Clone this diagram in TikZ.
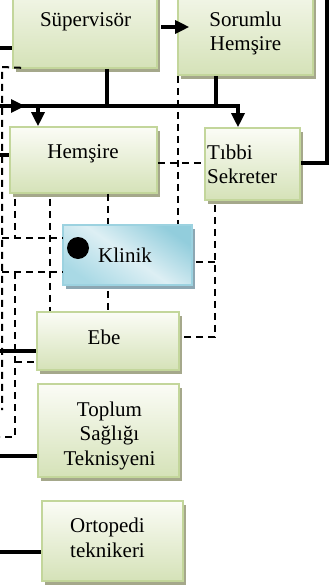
\documentclass[tikz,border=0pt]{standalone}
\usepackage{fontspec}
\setmainfont{Liberation Serif}
\usetikzlibrary{shadows,arrows.meta}
\definecolor{gtop}{HTML}{FBFCF6}
\definecolor{gbot}{HTML}{D5E2B8}
\definecolor{gborder}{HTML}{C3D69B}
\definecolor{gshadow}{HTML}{A5A88B}
\definecolor{btop}{HTML}{92CDDC}
\definecolor{bmid}{HTML}{DDEFF4}
\definecolor{bbot}{HTML}{A9D9E5}
\definecolor{bborder}{HTML}{9CD2E0}
\definecolor{bshadow}{HTML}{8CA7B3}
\begin{document}
\begin{tikzpicture}[x=1pt,y=-1pt,
  gbox/.style={rectangle, draw=gborder, line width=1.6pt, top color=gtop, bottom color=gbot, inner sep=0pt,
    drop shadow={shadow xshift=3pt, shadow yshift=-4pt, fill=gshadow, opacity=1}},
  bbox/.style={rectangle, draw=bborder, line width=1.6pt, top color=btop, bottom color=bbot, middle color=bmid,
    shading angle=-35, inner sep=0pt,
    drop shadow={shadow xshift=3pt, shadow yshift=-4pt, fill=bshadow, opacity=1}},
  lbl/.style={inner sep=0pt, font=\fontsize{21}{24.5}\selectfont, anchor=base},
  strong/.style={line width=3.2pt},
  dsh/.style={line width=2pt, dash pattern=on 7pt off 5pt},
  arr/.style={strong, -{Triangle[length=14pt,width=13pt]}},
]
\clip (0,0) rectangle (334,586);
\useasboundingbox (0,0) rectangle (334,586);

% boxes
\node[gbox, minimum width=144pt, minimum height=98pt] (sup) at (85,19) {};
\node[gbox, minimum width=135pt, minimum height=105pt] (sor) at (245.5,22.5) {};
\node[gbox, minimum width=147pt, minimum height=66pt] (hem) at (83.5,160) {};
\node[gbox, minimum width=95pt, minimum height=72pt] (tib) at (252.5,164) {};
\node[bbox, minimum width=129pt, minimum height=60pt] (kli) at (127.5,255) {};
\node[gbox, minimum width=142pt, minimum height=58pt] (ebe) at (108,341) {};
\node[gbox, minimum width=141pt, minimum height=93pt] (top) at (108.5,430.5) {};
\node[gbox, minimum width=141pt, minimum height=80pt] (ort) at (112.5,541) {};

% texts (multi-line: anchor at baseline of last line)
\node[lbl] (tsup) at (85.5,27) {Süpervisör};
\node[lbl, align=center] (tsor) at (245.5,51) {Sorumlu\\Hemşire};
\node[lbl] (them) at (83,158) {Hemşire};
\node[lbl, align=left, anchor=base west] (ttib) at (207,183.5) {Tıbbi\\Sekreter};
\node[lbl] (tkli) at (125,262) {Klinik};
\node[lbl] (tebe) at (104,344) {Ebe};
\node[lbl, align=center] (ttop) at (109.5,465) {Toplum\\Sağlığı\\Teknisyeni};
\node[lbl, align=center] (tort) at (107.5,557) {Ortopedi\\teknikeri};
\node[circle, fill=black, minimum width=22pt, minimum height=21pt, inner sep=0pt] (dot) at (78,248) {};

% coordinates
\coordinate (L1) at (0,48);
\coordinate (A1) at (161,27);
\coordinate (B0) at (0,106);
\coordinate (B0a) at (25,106);
\coordinate (B1) at (107,106);
\coordinate (B2) at (216,106);
\coordinate (B3) at (238,106);
\coordinate (B4) at (38,106);
\coordinate (R1) at (327,0);
\coordinate (R2) at (327,163);
\coordinate (L2) at (0,155);
\coordinate (L3) at (0,351);
\coordinate (L4) at (0,456);
\coordinate (L5) at (0,552);

% solid connectors
\draw[strong] (L1) -- (L1 -| sup.west);
\draw[arr, shorten >=-12pt] (A1) -- (A1 -| sor.west);
\draw[strong] (B1 |- sup.south) -- (B1);
\draw[strong] (B2 |- sor.south) -- (B2);
\draw[arr] (B0) -- (B3) -- (B3 |- tib.north);
\draw[arr] (B0) -- (B0a);
\draw[arr] (B4) -- (B4 |- hem.north);
\draw[strong] (R2 -| tib.east) -- (R2) -- (R1);
\draw[strong] (L2) -- (L2 -| hem.west);
\draw[strong] (L3) -- (L3 -| ebe.west);
\draw[strong] (L4) -- (L4 -| top.west);
\draw[strong] (L5) -- (L5 -| ort.west);

% dashed connectors
\coordinate (V0) at (2,67);
\coordinate (V1) at (2,410);
\coordinate (K1) at (2,238);
\coordinate (K1b) at (15,238);
\coordinate (K2) at (2,272);
\coordinate (E1) at (15,272);
\coordinate (E2) at (15,437);
\coordinate (E3) at (0,437);
\coordinate (E4) at (15,362);
\coordinate (X50) at (50,0);
\coordinate (X108) at (108,0);
\coordinate (X178) at (178,0);
\coordinate (T1) at (215,337);
\coordinate (T2) at (215,262);
\coordinate (M1) at (180,163);

\draw[dsh] ([xshift=9pt,yshift=1pt]sup.south west) -- (V0) -- (V1);
\draw[dsh] (K1) -- (K1 -| kli.west);
\draw[dsh] ([yshift=-5pt]K1b |- hem.south) -- (K1b);
\draw[dsh] (K2) -- (K2 -| kli.west);
\draw[dsh] (E1) -- (E2) -- (E3);
\draw[dsh] (E4) -- (E4 -| ebe.west);
\draw[dsh] ([yshift=-5pt]X50 |- hem.south) -- (X50 |- ebe.north);
\draw[dsh] (X108 |- hem.south) -- (X108 |- kli.north);
\draw[dsh] ([yshift=-5pt]X108 |- kli.south) -- (X108 |- ebe.north);
\draw[dsh] (X178 |- sor.south) -- (X178 |- kli.north);
\draw[dsh] ([yshift=-4pt]T1 |- tib.south) -- (T1) -- (T1 -| ebe.east);
\draw[dsh] ([xshift=3pt]T2 -| kli.east) -- (T2);
\draw[dsh] (M1 -| hem.east) -- (M1 -| tib.west);
\end{tikzpicture}
\end{document}
